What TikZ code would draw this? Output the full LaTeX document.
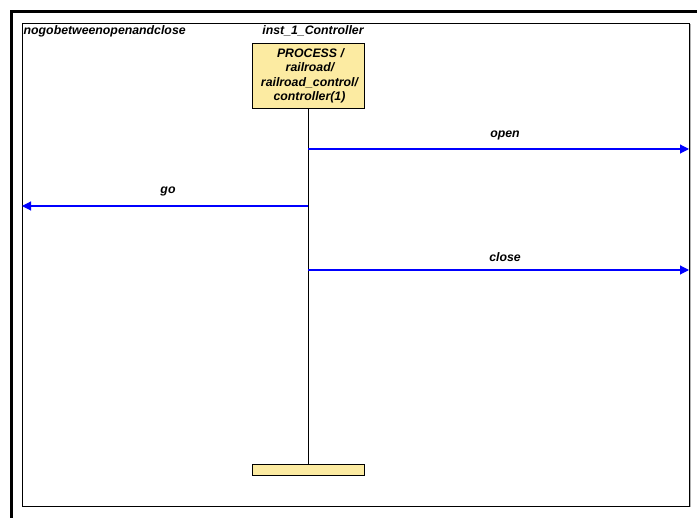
\documentclass[tikz,border=0pt]{standalone}
\usepackage{fontspec}
\setmainfont{Liberation Sans}
\usetikzlibrary{arrows.meta}
\definecolor{boxfill}{HTML}{FCEBA2}
\definecolor{msgblue}{HTML}{0000FF}
\begin{document}
\begin{tikzpicture}[x=1pt,y=-1pt,
  lbl/.style={font=\fontsize{12.3}{14}\selectfont\bfseries\itshape, inner sep=0pt},
  msg/.style={draw=msgblue, line width=1.1pt, -{Triangle[length=9pt,width=9pt]}},
  procbox/.style={draw=black, fill=boxfill, line width=0.9pt},
]
\useasboundingbox (0,0) rectangle (697,518);
% outer frame corner
\draw[line width=3pt] (11.5,518) -- (11.5,11.5) -- (697,11.5);
% diagram frame with shadow
\draw[gray!60, line width=1pt] (24,25) rectangle (690,507);
\draw[fill=white, line width=0.9pt] (22,23) rectangle (689,506);
\node[lbl, anchor=north west] (title) at (23.5,25) {nogobetweenopenandclose};
% instance head
\node[lbl] (iname) at (313,31) {inst\_1\_Controller};
\node[procbox, minimum width=112pt, minimum height=65pt, inner sep=0pt, anchor=north, align=center,
      font=\fontsize{12.3}{14.4}\selectfont\bfseries\itshape] (proc) at (308,43)
  {\hspace*{5pt}PROCESS /\\\hspace*{4pt}railroad/\\\hspace*{3pt}railroad\_control/\\\hspace*{3pt}controller(1)};
% instance end
\node[procbox, minimum width=112pt, minimum height=11pt, inner sep=0pt, anchor=north] (stop) at (308,464) {};
\draw[line width=0.9pt] (proc.south) -- (stop.north);
% message end points
\coordinate (l1) at (308,149);
\coordinate (r1) at (689,149);
\coordinate (l2) at (308,206);
\coordinate (r2) at (22,206);
\coordinate (l3) at (308,270);
\coordinate (r3) at (689,270);
\draw[msg] (l1) -- (r1);
\draw[msg] (l2) -- (r2);
\draw[msg] (l3) -- (r3);
\node[lbl] (mopen) at (505,135) {open};
\node[lbl] (mgo) at (168,191) {go};
\node[lbl] (mclose) at (505,257) {close};
\end{tikzpicture}
\end{document}
